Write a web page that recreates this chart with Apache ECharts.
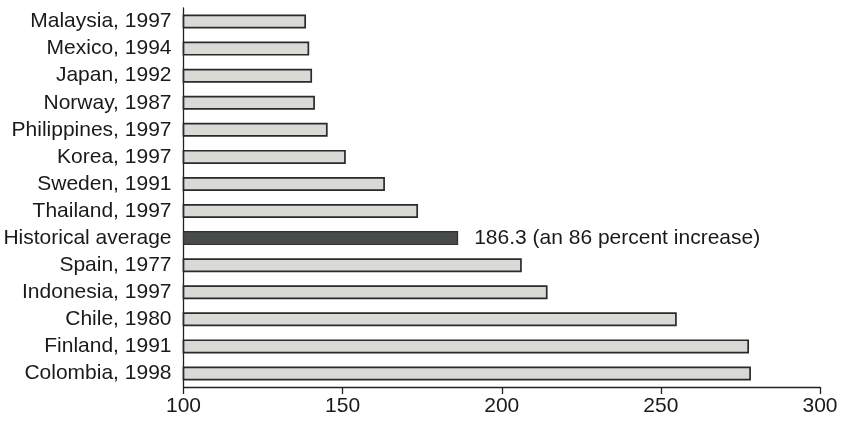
<!DOCTYPE html>
<html>
<head>
<meta charset="utf-8">
<script src="https://cdn.jsdelivr.net/npm/echarts@6/dist/echarts.min.js"></script>
<style>
html,body{margin:0;padding:0;background:#fff;}
#chart{width:850px;height:433px;}
</style>
</head>
<body>
<div id="chart"></div>
<script>
var categories = ["Malaysia, 1997","Mexico, 1994","Japan, 1992","Norway, 1987","Philippines, 1997","Korea, 1997","Sweden, 1991","Thailand, 1997","Historical average","Spain, 1977","Indonesia, 1997","Chile, 1980","Finland, 1991","Colombia, 1998"];
var values = [138.5,139.5,140.4,141.3,145.3,151.0,163.3,173.7,186.3,206.3,214.4,255.0,277.7,278.3];
var highlightCategory = "Historical average";
var highlightNote = "186.3 (an 86 percent increase)";
var xTicks = {min:100, max:300, interval:50};

var FONT = 'Liberation Sans, Arial, sans-serif';
var chart = echarts.init(document.getElementById('chart'), null, {renderer:'canvas'});
var data = values.map(function(v,i){
  var hi = categories[i] === highlightCategory;
  var item = {value:v};
  if (hi) {
    item.itemStyle = {color:'#474b49', borderColor:'#2e312f', borderWidth:1.2};
    item.label = {show:true, position:'right', distance:16, formatter: highlightNote,
      color:'#1a1a1a', fontSize:21, fontFamily:FONT};
  }
  return item;
});
chart.setOption({
  animation:false,
  backgroundColor:'#ffffff',
  grid:{left:183.5, right:30, top:8, bottom:46, containLabel:false},
  xAxis:{
    type:'value', min:xTicks.min, max:xTicks.max, interval:xTicks.interval,
    axisLine:{show:true, lineStyle:{color:'#222', width:1.3}},
    axisTick:{show:true, length:7, lineStyle:{color:'#222', width:1.3}},
    splitLine:{show:false},
    axisLabel:{color:'#1a1a1a', fontSize:21, margin:9, fontFamily:FONT}
  },
  yAxis:{
    type:'category', data:categories, inverse:true,
    axisLine:{show:true, lineStyle:{color:'#222', width:1.3}},
    axisTick:{show:false},
    axisLabel:{interval:0, color:'#1a1a1a', fontSize:21, margin:12, fontFamily:FONT}
  },
  series:[{
    type:'bar', data:data, barWidth:14,
    itemStyle:{color:'#d9d9d6', borderColor:'#2a2a2a', borderWidth:1.7},
    label:{show:false}
  }]
});
</script>
</body>
</html>
